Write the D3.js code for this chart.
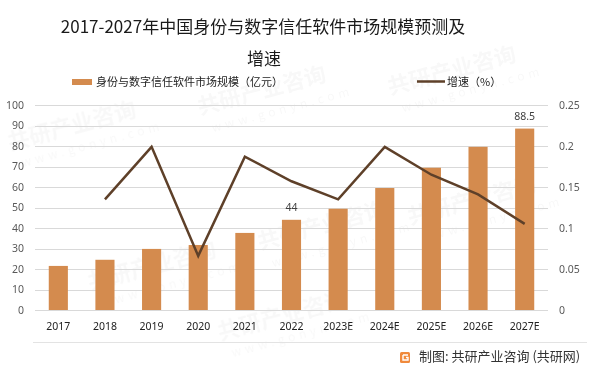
<!DOCTYPE html>
<html>
<head>
<meta charset="utf-8">
<script src="https://cdn.jsdelivr.net/npm/d3@7"></script>
<style>
  body { margin: 0; background: #fff; }
  svg { display: block; font-family: "Noto Sans", "Noto Sans CJK SC", sans-serif; }
</style>
</head>
<body>
<div id="chart"></div>
<script>
const years = ["2017", "2018", "2019", "2020", "2021", "2022", "2023E", "2024E", "2025E", "2026E", "2027E"];
const marketSize = [21.5, 24.5, 29.8, 31.7, 37.6, 44, 49.4, 59.5, 69.4, 79.6, 88.5];
const growth = [null, 0.135, 0.199, 0.066, 0.187, 0.157, 0.135, 0.199, 0.165, 0.141, 0.105];
const leftTicks = [0, 10, 20, 30, 40, 50, 60, 70, 80, 90, 100];
const rightTicks = [0, 0.05, 0.1, 0.15, 0.2, 0.25];
const labelled = { "2022": "44", "2027E": "88.5" };

const width = 599, height = 373;
const plot = { left: 35, right: 548, top: 105, bottom: 310 };
const barColor = "#d48b4e", lineColor = "#5e4029";

const svg = d3.select("#chart").append("svg")
  .attr("width", width).attr("height", height);

// faint watermark
const wm = svg.append("g").attr("fill", "#000").attr("opacity", 0.03)
  .style("font-family", "'Noto Sans CJK SC', sans-serif");
[[10, 150], [200, 115], [390, 95], [90, 290], [260, 250], [410, 225], [220, 340]].forEach(([x, y]) => {
  const g = wm.append("g").attr("transform", `translate(${x},${y}) rotate(-15)`);
  g.append("text").attr("font-size", 22).attr("font-weight", "bold").text("共研产业咨询");
  g.append("text").attr("y", 20).attr("x", 8).attr("font-size", 12).attr("letter-spacing", 4).text("www.gonyn.com");
});

const x = d3.scaleBand().domain(years).range([plot.left, plot.right]).paddingInner(0.59).paddingOuter(0.295);
const yL = d3.scaleLinear().domain([0, 100]).range([plot.bottom, plot.top]);
const yR = d3.scaleLinear().domain([0, 0.25]).range([plot.bottom, plot.top]);

// title
const title = svg.append("text").attr("text-anchor", "middle").attr("fill", "#1a1a1a")
  .attr("font-size", 17).style("font-family", "'Noto Sans CJK SC', sans-serif");
title.append("tspan").attr("x", 263).attr("y", 33).text("2017-2027年中国身份与数字信任软件市场规模预测及");
title.append("tspan").attr("x", 264).attr("y", 65).text("增速");

// legend
const legend = svg.append("g").attr("font-size", 11).attr("fill", "#222")
  .style("font-family", "'Noto Sans CJK SC', sans-serif");
legend.append("rect").attr("x", 72).attr("y", 79).attr("width", 20).attr("height", 6).attr("fill", barColor);
legend.append("text").attr("x", 96).attr("y", 86).text("身份与数字信任软件市场规模（亿元）");
legend.append("line").attr("x1", 417).attr("x2", 445).attr("y1", 81.5).attr("y2", 81.5)
  .attr("stroke", lineColor).attr("stroke-width", 2.5);
legend.append("text").attr("x", 447).attr("y", 86).text("增速（%）");

// gridlines
svg.append("g").selectAll("line").data(leftTicks).join("line")
  .attr("x1", plot.left).attr("x2", plot.right)
  .attr("y1", d => Math.round(yL(d)) + 0.5).attr("y2", d => Math.round(yL(d)) + 0.5)
  .attr("stroke", "#d9d9d9").attr("stroke-width", 1);

// axes
const axisL = svg.append("g").attr("transform", `translate(${plot.left},0)`)
  .call(d3.axisLeft(yL).tickValues(leftTicks).tickSize(0).tickPadding(11));
const axisR = svg.append("g").attr("transform", `translate(${plot.right},0)`)
  .call(d3.axisRight(yR).tickValues(rightTicks).tickSize(0).tickPadding(11).tickFormat(d => String(+d.toFixed(2))));
const axisX = svg.append("g").attr("transform", `translate(0,${plot.bottom})`)
  .call(d3.axisBottom(x).tickSize(0).tickPadding(13));
[axisL, axisR, axisX].forEach(a => {
  a.select(".domain").remove();
  a.selectAll("text").attr("font-size", 10.5).attr("fill", "#595959")
    .style("font-family", "'Noto Sans', sans-serif");
});
axisX.selectAll("text").attr("fill", "#222");

// bottom border line
svg.append("line").attr("x1", 33).attr("x2", 587).attr("y1", 342.5).attr("y2", 342.5)
  .attr("stroke", "#e3e3e3");

// bars
svg.append("g").selectAll("rect").data(years).join("rect")
  .attr("x", d => x(d)).attr("width", x.bandwidth())
  .attr("y", (d, i) => yL(marketSize[i]))
  .attr("height", (d, i) => plot.bottom - yL(marketSize[i]))
  .attr("fill", barColor);

// bar labels
svg.append("g").selectAll("text").data(years.filter(d => labelled[d])).join("text")
  .attr("x", d => x(d) + x.bandwidth() / 2)
  .attr("y", d => yL(marketSize[years.indexOf(d)]) - 9)
  .attr("text-anchor", "middle").attr("font-size", 10.5).attr("fill", "#404040")
  .text(d => labelled[d]);

// growth line
const line = d3.line()
  .defined(d => d.v != null)
  .x(d => x(d.year) + x.bandwidth() / 2)
  .y(d => yR(d.v));
svg.append("path")
  .datum(years.map((year, i) => ({ year, v: growth[i] })))
  .attr("d", line).attr("fill", "none")
  .attr("stroke", lineColor).attr("stroke-width", 2.5).attr("stroke-linejoin", "miter");

// footer
const foot = svg.append("g");
foot.append("rect").attr("x", 400).attr("y", 352).attr("width", 10).attr("height", 11).attr("rx", 1.5).attr("fill", "#f08a3c");
foot.append("path").attr("d", "M403,355 h5 M403,355 v5 h5 v-2.5 h-2").attr("stroke", "#fff").attr("stroke-width", 1.4).attr("fill", "none");
foot.append("text").attr("x", 419).attr("y", 361).attr("font-size", 13).attr("fill", "#333")
  .style("font-family", "'Noto Sans CJK SC', sans-serif")
  .text("制图: 共研产业咨询 (共研网)");
</script>
</body>
</html>
